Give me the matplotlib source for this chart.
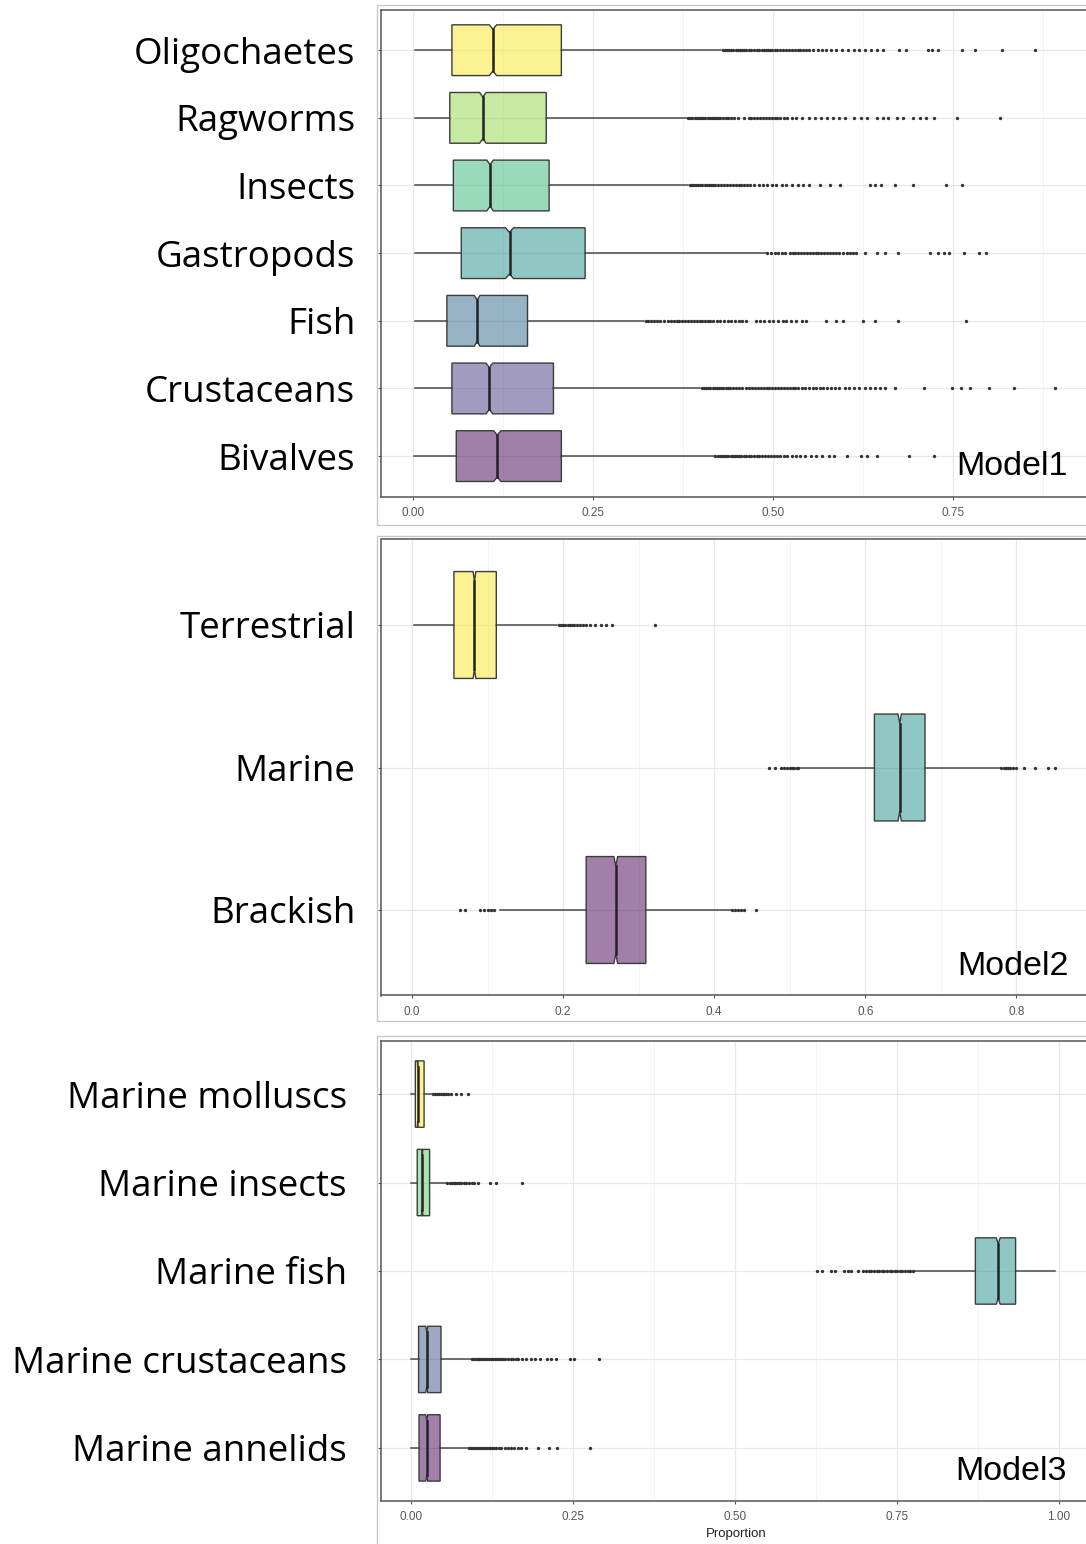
import matplotlib
matplotlib.use('Agg')
import matplotlib.pyplot as plt
from matplotlib.colors import to_rgba
from matplotlib.patches import Polygon, Rectangle
from matplotlib.ticker import MultipleLocator

# ---- Model1: prey groups ----
m1_labels = ['Oligochaetes', 'Ragworms', 'Insects', 'Gastropods', 'Fish', 'Crustaceans', 'Bivalves']
m1_colors = ['#FDE725', '#8FD744', '#35B779', '#21908C', '#31688E', '#443A83', '#440154']
m1_q1 = [0.054, 0.051, 0.056, 0.067, 0.047, 0.054, 0.060]
m1_med = [0.111, 0.097, 0.107, 0.134, 0.089, 0.106, 0.117]
m1_q3 = [0.206, 0.185, 0.189, 0.239, 0.159, 0.195, 0.206]
m1_lo = [0.003, 0.003, 0.003, 0.003, 0.003, 0.003, 0.002]
m1_hi = [0.428, 0.380, 0.382, 0.490, 0.321, 0.399, 0.418]
m1_notch = [0.005, 0.0045, 0.0045, 0.0055, 0.004, 0.0047, 0.005]
m1_out = [
    [0.430, 0.433, 0.436, 0.439, 0.442, 0.445, 0.448, 0.451, 0.454, 0.457, 0.460, 0.463, 0.466,
     0.470, 0.474, 0.478, 0.481, 0.484, 0.487, 0.490, 0.493, 0.496, 0.499, 0.502, 0.506, 0.510,
     0.514, 0.518, 0.522, 0.526, 0.530, 0.534, 0.538, 0.542, 0.546, 0.550, 0.556, 0.562, 0.568,
     0.574, 0.580, 0.588, 0.596, 0.604, 0.612, 0.620, 0.628, 0.636, 0.644, 0.652, 0.675, 0.685,
     0.715, 0.721, 0.729, 0.763, 0.781, 0.818, 0.864],
    [0.382, 0.385, 0.388, 0.391, 0.394, 0.397, 0.400, 0.403, 0.406, 0.409, 0.412, 0.415, 0.418,
     0.421, 0.424, 0.427, 0.430, 0.434, 0.438, 0.442, 0.446, 0.451, 0.460, 0.466, 0.470, 0.474,
     0.478, 0.482, 0.486, 0.490, 0.494, 0.498, 0.502, 0.506, 0.510, 0.515, 0.520, 0.526, 0.532,
     0.540, 0.550, 0.558, 0.566, 0.575, 0.583, 0.592, 0.600, 0.612, 0.622, 0.630, 0.645, 0.652,
     0.660, 0.672, 0.680, 0.694, 0.704, 0.713, 0.724, 0.756, 0.815],
    [0.384, 0.387, 0.390, 0.393, 0.396, 0.399, 0.402, 0.405, 0.408, 0.411, 0.414, 0.417, 0.420,
     0.424, 0.428, 0.432, 0.436, 0.440, 0.444, 0.448, 0.452, 0.456, 0.460, 0.464, 0.468, 0.473,
     0.480, 0.486, 0.492, 0.498, 0.504, 0.512, 0.518, 0.526, 0.534, 0.542, 0.550, 0.565, 0.579,
     0.593, 0.634, 0.642, 0.650, 0.669, 0.694, 0.740, 0.762],
    [0.492, 0.497, 0.502, 0.507, 0.512, 0.517, 0.523, 0.527, 0.531, 0.535, 0.539, 0.543, 0.547,
     0.551, 0.555, 0.559, 0.563, 0.567, 0.571, 0.575, 0.579, 0.583, 0.587, 0.592, 0.597, 0.602,
     0.607, 0.611, 0.615, 0.628, 0.644, 0.655, 0.674, 0.718, 0.729, 0.737, 0.745, 0.765, 0.786,
     0.796],
    [0.323, 0.327, 0.331, 0.335, 0.339, 0.343, 0.349, 0.354, 0.358, 0.362, 0.366, 0.370, 0.374,
     0.378, 0.382, 0.386, 0.390, 0.394, 0.398, 0.402, 0.406, 0.410, 0.413, 0.417, 0.422, 0.427,
     0.432, 0.437, 0.442, 0.447, 0.452, 0.457, 0.463, 0.476, 0.482, 0.488, 0.494, 0.500, 0.507,
     0.514, 0.518, 0.525, 0.532, 0.540, 0.546, 0.573, 0.587, 0.597, 0.625, 0.642, 0.674, 0.768],
    [0.401, 0.404, 0.407, 0.410, 0.413, 0.416, 0.419, 0.422, 0.425, 0.428, 0.431, 0.434, 0.437,
     0.440, 0.444, 0.448, 0.452, 0.457, 0.463, 0.467, 0.471, 0.475, 0.479, 0.483, 0.487, 0.491,
     0.495, 0.499, 0.503, 0.507, 0.511, 0.515, 0.519, 0.523, 0.527, 0.531, 0.535, 0.540, 0.545,
     0.550, 0.555, 0.560, 0.565, 0.570, 0.575, 0.580, 0.586, 0.592, 0.600, 0.606, 0.613, 0.620,
     0.627, 0.634, 0.641, 0.648, 0.656, 0.669, 0.710, 0.748, 0.761, 0.773, 0.800, 0.834, 0.892],
    [0.420, 0.423, 0.426, 0.429, 0.432, 0.435, 0.438, 0.441, 0.444, 0.447, 0.450, 0.453, 0.456,
     0.459, 0.462, 0.466, 0.470, 0.473, 0.477, 0.481, 0.485, 0.489, 0.493, 0.497, 0.501, 0.505,
     0.510, 0.515, 0.520, 0.526, 0.532, 0.538, 0.545, 0.552, 0.560, 0.568, 0.577, 0.585, 0.603,
     0.622, 0.631, 0.645, 0.689, 0.723],
]

# ---- Model2: habitats ----
m2_labels = ['Terrestrial', 'Marine', 'Brackish']
m2_colors = ['#FDE725', '#21908C', '#440154']
m2_q1 = [0.0555, 0.612, 0.2305]
m2_med = [0.0827, 0.6455, 0.2697]
m2_q3 = [0.1116, 0.679, 0.3095]
m2_lo = [0.0024, 0.512, 0.116]
m2_hi = [0.192, 0.779, 0.423]
m2_notch = [0.0018, 0.0022, 0.0025]
m2_out = [
    [0.194, 0.197, 0.200, 0.203, 0.206, 0.209, 0.212, 0.215, 0.218, 0.222, 0.226, 0.230, 0.235,
     0.242, 0.250, 0.257, 0.265, 0.321],
    [0.472, 0.480, 0.488, 0.492, 0.496, 0.500, 0.503, 0.506, 0.509, 0.511, 0.780, 0.783, 0.786,
     0.789, 0.792, 0.795, 0.800, 0.810, 0.825, 0.842, 0.851],
    [0.063, 0.070, 0.090, 0.095, 0.100, 0.105, 0.108, 0.424, 0.428, 0.432, 0.436, 0.439, 0.455],
]

# ---- Model3: marine prey ----
m3_labels = ['Marine molluscs', 'Marine insects', 'Marine fish', 'Marine crustaceans', 'Marine annelids']
m3_colors = ['#FDE725', '#5DC863', '#21908C', '#3B528B', '#440154']
m3_q1 = [0.007, 0.0099, 0.8715, 0.012, 0.0127]
m3_med = [0.0106, 0.0177, 0.9068, 0.0247, 0.0247]
m3_q3 = [0.0205, 0.029, 0.9336, 0.0466, 0.0452]
m3_lo = [0.0007, 0.0007, 0.776, 0.0007, 0.0007]
m3_hi = [0.033, 0.055, 0.994, 0.093, 0.089]
m3_notch = [0.0006, 0.0009, 0.003, 0.0016, 0.0016]
m3_out = [
    [0.034, 0.037, 0.040, 0.043, 0.046, 0.049, 0.052, 0.055, 0.058, 0.062, 0.070, 0.078, 0.089],
    [0.0565, 0.060, 0.063, 0.066, 0.069, 0.072, 0.075, 0.078, 0.082, 0.085, 0.090, 0.094, 0.098,
     0.1045, 0.122, 0.131, 0.171],
    [0.627, 0.635, 0.648, 0.655, 0.668, 0.675, 0.680, 0.690, 0.698, 0.703, 0.707, 0.711, 0.715,
     0.719, 0.723, 0.727, 0.731, 0.735, 0.739, 0.743, 0.747, 0.751, 0.755, 0.759, 0.763, 0.767,
     0.771, 0.775],
    [0.094, 0.097, 0.100, 0.103, 0.106, 0.109, 0.112, 0.115, 0.118, 0.121, 0.124, 0.127, 0.130,
     0.133, 0.136, 0.139, 0.142, 0.146, 0.150, 0.154, 0.158, 0.162, 0.166, 0.171, 0.178, 0.185,
     0.192, 0.200, 0.210, 0.216, 0.224, 0.245, 0.252, 0.290],
    [0.090, 0.093, 0.096, 0.099, 0.102, 0.105, 0.108, 0.111, 0.114, 0.117, 0.120, 0.123, 0.126,
     0.129, 0.132, 0.136, 0.140, 0.145, 0.150, 0.155, 0.160, 0.165, 0.170, 0.178, 0.196, 0.213,
     0.225, 0.276],
]

W, H = 1086, 1544
fig = plt.figure(figsize=(W / 100, H / 100), dpi=100)

EDGE = '#3c3c3c'
LINE = '#4a4a4a'


def px_axes(left, top, right, bottom):
    return fig.add_axes([left / W, 1 - bottom / H, (right - left) / W, (bottom - top) / H])


def frame(left, top, right, bottom):
    fig.add_artist(Rectangle((left / W, 1 - bottom / H), (right - left) / W, (bottom - top) / H,
                             transform=fig.transFigure, fill=False, ec='#c8c8c8', lw=1.0))


def notched_box(ax, y, q1, med, q3, lo, hi, notch, out, color, height=0.75, nw=0.82):
    h = height / 2
    hn = h * nw
    xs = [q1, med - notch, med, med + notch, q3, q3, med + notch, med, med - notch, q1]
    ys = [y - h, y - h, y - hn, y - h, y - h, y + h, y + h, y + hn, y + h, y + h]
    ax.plot([lo, q1], [y, y], color=LINE, lw=1.1, zorder=2)
    ax.plot([q3, hi], [y, y], color=LINE, lw=1.1, zorder=2)
    ax.add_patch(Polygon(list(zip(xs, ys)), closed=True, fc=to_rgba(color, 0.5),
                         ec=EDGE, lw=1.0, zorder=3))
    ax.plot([med, med], [y - hn, y + hn], color='#222222', lw=1.8, zorder=4)
    ax.plot(out, [y] * len(out), ls='none', marker='o', ms=2.4, mew=0, color='#333333', zorder=2)


def panel(box, labels, colors, q1, med, q3, lo, hi, notch, outs, xlim, major, minor, fmt,
          model, model_xy, label_pad):
    ax = px_axes(*box)
    n = len(labels)
    ys = list(range(n, 0, -1))
    for i in range(n):
        notched_box(ax, ys[i], q1[i], med[i], q3[i], lo[i], hi[i], notch[i], outs[i], colors[i])
    ax.set_xlim(*xlim)
    ax.set_ylim(0.4, n + 0.6)
    ax.xaxis.set_major_locator(MultipleLocator(major))
    ax.xaxis.set_minor_locator(MultipleLocator(minor))
    ax.xaxis.set_major_formatter(plt.FuncFormatter(lambda v, p: fmt.format(v)))
    ax.set_yticks(ys)
    ax.set_yticklabels(labels, fontsize=26.5, family='Open Sans', color='black')
    ax.set_axisbelow(True)
    ax.grid(which='major', color='#e8e8e8', lw=0.9)
    ax.grid(which='minor', axis='x', color='#f2f2f2', lw=0.6)
    ax.tick_params(axis='y', length=2.5, width=0.8, color='#555555', pad=label_pad)
    ax.tick_params(axis='x', which='major', length=2.5, width=0.8, color='#555555', pad=5,
                   labelsize=8.5, labelcolor='#555560')
    ax.tick_params(axis='x', which='minor', length=0)
    for lab in ax.get_xticklabels():
        lab.set_family('Liberation Sans')
    for s in ['left', 'top', 'bottom']:
        ax.spines[s].set_color('#555555')
        ax.spines[s].set_linewidth(1.1)
    ax.spines['right'].set_visible(False)
    fig.text(model_xy[0] / W, 1 - model_xy[1] / H, model, fontsize=24.5,
             family='Liberation Sans', ha='left', va='baseline', color='black')
    return ax


frame(377, 5, 1095, 525)
frame(377, 536, 1095, 1021)
frame(377, 1036, 1095, 1560)

panel((381, 9.6, 1087, 496.7), m1_labels, m1_colors, m1_q1, m1_med, m1_q3, m1_lo, m1_hi,
      m1_notch, m1_out, (-0.0445, 0.936), 0.25, 0.125, '{:.2f}', 'Model1', (956, 475), 16)
panel((381, 539.5, 1092, 995.5), m2_labels, m2_colors, m2_q1, m2_med, m2_q3, m2_lo, m2_hi,
      m2_notch, m2_out, (-0.041, 0.900), 0.2, 0.1, '{:.1f}', 'Model2', (957, 975), 16)
ax3 = panel((381, 1041, 1091, 1501), m3_labels, m3_colors, m3_q1, m3_med, m3_q3, m3_lo, m3_hi,
            m3_notch, m3_out, (-0.046, 1.050), 0.25, 0.125, '{:.2f}', 'Model3', (955, 1480), 22)
ax3.set_xlabel('Proportion', fontsize=9.5, family='Liberation Sans', color='#222222', labelpad=3)

fig.savefig('out.png', dpi=100)
